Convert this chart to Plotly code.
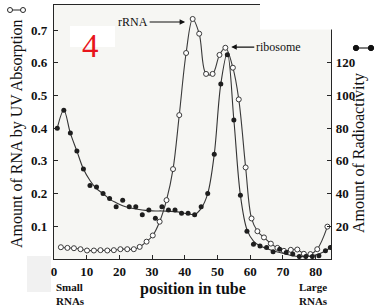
import plotly.graph_objects as go

# ---------------- data ----------------
# UV absorption (open circles, left axis)
uv_x = [2.1, 4.1, 6.1, 8.1, 10.1, 12.2, 14.2, 16.3, 18.3, 20.3, 22.4, 24.4, 26.2, 28.3,
        30.2, 32.3, 34.4, 36.4, 38.3, 40.4, 42.4, 44.4, 46.5, 48.5, 50.6, 52.4, 54.7,
        56.5, 58.6, 60.4, 62.2, 64.2, 66.3, 68.3, 70.3, 72.4, 74.4, 76.4, 78.4, 80.5, 83.6]
uv_y = [0.036, 0.034, 0.033, 0.030, 0.026, 0.026, 0.027, 0.026, 0.027, 0.030, 0.030, 0.030,
        0.037, 0.053, 0.072, 0.114, 0.180, 0.275, 0.440, 0.630, 0.734, 0.689, 0.566, 0.566,
        0.624, 0.646, 0.585, 0.488, 0.280, 0.124, 0.085, 0.066, 0.047, 0.034, 0.025, 0.028,
        0.029, 0.016, 0.015, 0.030, 0.099]

# Radioactivity (filled dots, right axis)
rad_x = [1, 3, 5, 7, 9, 11, 13, 15, 17, 19, 21, 23, 25, 27, 29, 31, 33, 35, 37, 39, 41, 43,
         45, 47, 49, 51, 53, 55, 57, 59, 61, 63, 65, 67, 69, 71, 73, 75, 77, 79, 81, 83, 84.5]
rad_y = [80, 91, 77, 66, 55, 45, 44, 40, 37, 32, 36, 32, 32, 27, 30, 25, 32, 30, 30, 28, 28,
         27, 32, 40, 64, 107, 125, 85, 39, 17, 9, 8, 7, 4.5, 6, 4, 3, 1.5, 1.5, 1.5, 2, 5, 7]

# smooth curve drawn through the radioactivity dots
rad_fit_x = [1, 3, 5, 7, 9, 11, 13, 15, 17, 19, 21, 23, 25, 27, 29, 31, 33, 35, 37, 39, 41,
             43, 45, 47, 49, 51, 53, 55, 57, 59, 61, 63, 65, 67, 69, 71, 73, 75, 77, 79, 81,
             83, 84.5]
rad_fit_y = [80, 91, 77, 66, 55, 48, 43, 40, 36.6, 34.4, 32.6, 31.4, 30.6, 30, 29.6, 29.4,
             29.4, 29.2, 29, 28.4, 27.6, 27.2, 31, 40, 64, 107, 126, 85, 39, 18, 11, 8, 6.5,
             5, 4, 3, 2, 1.5, 1.5, 2, 3, 5, 7]

x_ticks = [0, 10, 20, 30, 40, 50, 60, 70, 80]
left_ticks = [0.1, 0.2, 0.3, 0.4, 0.5, 0.6, 0.7]
right_ticks = [20, 40, 60, 80, 100, 120]

# ---------------- layout geometry (page px) ----------------
W, H = 375, 306
L, R, T, B = 54, 331, 5, 259   # plot area in px
PX_PER_UNIT = 327.0            # left-axis pixels per 1.0
Y_TOP = (B - T) / PX_PER_UNIT


def px(xp):
    return (xp - L) / (R - L)


def py(yp):
    return (B - yp) / (B - T)


INK = "#262626"
SERIF = "Liberation Serif"

fig = go.Figure()

fig.add_trace(go.Scatter(
    x=uv_x, y=uv_y, mode="lines+markers", line=dict(color="#3a3a3a", width=1.1, shape="spline"),
    marker=dict(symbol="circle", size=5, color="white", line=dict(color="#3a3a3a", width=1)),
    showlegend=False, hoverinfo="skip"))

fig.add_trace(go.Scatter(
    x=rad_fit_x, y=rad_fit_y, mode="lines", yaxis="y2",
    line=dict(color="#333333", width=1.1, shape="spline"), showlegend=False, hoverinfo="skip"))

fig.add_trace(go.Scatter(
    x=rad_x, y=rad_y, mode="markers", yaxis="y2",
    marker=dict(symbol="circle", size=5, color="#1e1e1e"), showlegend=False, hoverinfo="skip"))

tickfont = dict(family=SERIF, size=13, color="#111", weight="bold")

fig.update_layout(
    width=W, height=H,
    margin=dict(l=L, r=W - R, t=T, b=H - B, pad=0),
    paper_bgcolor="white", plot_bgcolor="#f6f6f3",
    xaxis=dict(range=[0, 84.7], tickvals=x_ticks, ticks="inside", ticklen=4, tickcolor=INK,
               showline=True, linecolor=INK, linewidth=1.2, mirror=True, showgrid=False,
               zeroline=False, tickfont=tickfont, ticklabelstandoff=0),
    yaxis=dict(range=[0, Y_TOP], tickvals=left_ticks, ticktext=[f"{v:.1f}" for v in left_ticks],
               ticks="inside", ticklen=4, tickcolor=INK, showline=True, linecolor=INK,
               linewidth=1.2, showgrid=False, zeroline=False, tickfont=tickfont,
               ticklabelstandoff=3),
    yaxis2=dict(range=[0, Y_TOP * 200], tickvals=right_ticks, overlaying="y", side="right",
                ticks="inside", ticklen=4, tickcolor=INK, showline=True, linecolor=INK,
                linewidth=1.2, showgrid=False, zeroline=False, tickfont=tickfont,
                ticklabelstandoff=1),
)

shapes = []
# white patch over the top-right corner (scan paste)
shapes.append(dict(type="rect", xref="paper", yref="paper", x0=px(260), x1=px(380),
                   y0=py(29.5), y1=py(-5), fillcolor="white", line=dict(width=0), layer="above"))
# white box behind the red "4"
shapes.append(dict(type="rect", xref="paper", yref="paper", x0=px(70), x1=px(115),
                   y0=py(47), y1=py(26), fillcolor="white", line=dict(width=0), layer="above"))
# light patch bottom-left
shapes.append(dict(type="rect", xref="paper", yref="paper", x0=px(27), x1=px(51),
                   y0=py(292), y1=py(256), fillcolor="#f1f1f1", line=dict(width=0), layer="below"))
# legend glyph: open circles o-o (top left)
shapes.append(dict(type="line", xref="paper", yref="paper", x0=px(10), x1=px(22), y0=py(10),
                   y1=py(10), line=dict(color=INK, width=1)))
for cx in (10, 23):
    shapes.append(dict(type="circle", xref="paper", yref="paper", x0=px(cx - 2.5), x1=px(cx + 2.5),
                       y0=py(12.5), y1=py(7.5), fillcolor="white", line=dict(color=INK, width=1)))
# legend glyph: filled dots (right)
shapes.append(dict(type="line", xref="paper", yref="paper", x0=px(356), x1=px(371), y0=py(48),
                   y1=py(48), line=dict(color=INK, width=1.2)))
for cx in (356, 371):
    shapes.append(dict(type="circle", xref="paper", yref="paper", x0=px(cx - 2.7), x1=px(cx + 2.7),
                       y0=py(50.7), y1=py(45.3), fillcolor="#111", line=dict(color="#111", width=1)))
fig.update_layout(shapes=shapes)


def label(text, xp, yp, size, bold=False, color="#111", angle=0, xanchor="center", align="center"):
    f = dict(family=SERIF, size=size, color=color)
    if bold:
        f["weight"] = "bold"
    return dict(text=text, xref="paper", yref="paper", x=px(xp), y=py(yp), textangle=angle,
                xanchor=xanchor, yanchor="middle", align=align, showarrow=False, font=f)


ann = [
    label("Amount of RNA by UV Absorption", 17, 134, 16, angle=-90),
    label("Amount of Radioactivity", 359, 153, 16, angle=-90),
    label("position in tube", 193, 289, 16, bold=True),
    label("Small<br>RNAs", 54, 294, 11, bold=True, xanchor="left", align="left"),
    label("Large<br>RNAs", 297, 294, 11, bold=True, xanchor="left", align="left"),
    label("4", 90, 46, 33, color="#e8141c"),
]
ann.append(dict(text="rRNA", x=40.1, y=0.725, xref="x", yref="y", ax=-52, ay=0,
                showarrow=True, arrowhead=2, arrowsize=1, arrowwidth=1.1, arrowcolor="#111",
                standoff=0, font=dict(family=SERIF, size=12, color="#111")))
ann.append(dict(text="ribosome", x=54.2, y=0.648, xref="x", yref="y", ax=47, ay=0,
                showarrow=True, arrowhead=2, arrowsize=1, arrowwidth=1.1, arrowcolor="#111",
                standoff=0, font=dict(family=SERIF, size=12, color="#111")))
fig.update_layout(annotations=ann)

# the page body has a default 8px margin; remove it so the figure fills the window exactly
fig.write_html("out.html", config={"displayModeBar": False, "staticPlot": True},
               post_script="document.body.style.margin='0';document.body.style.overflow='hidden';")
